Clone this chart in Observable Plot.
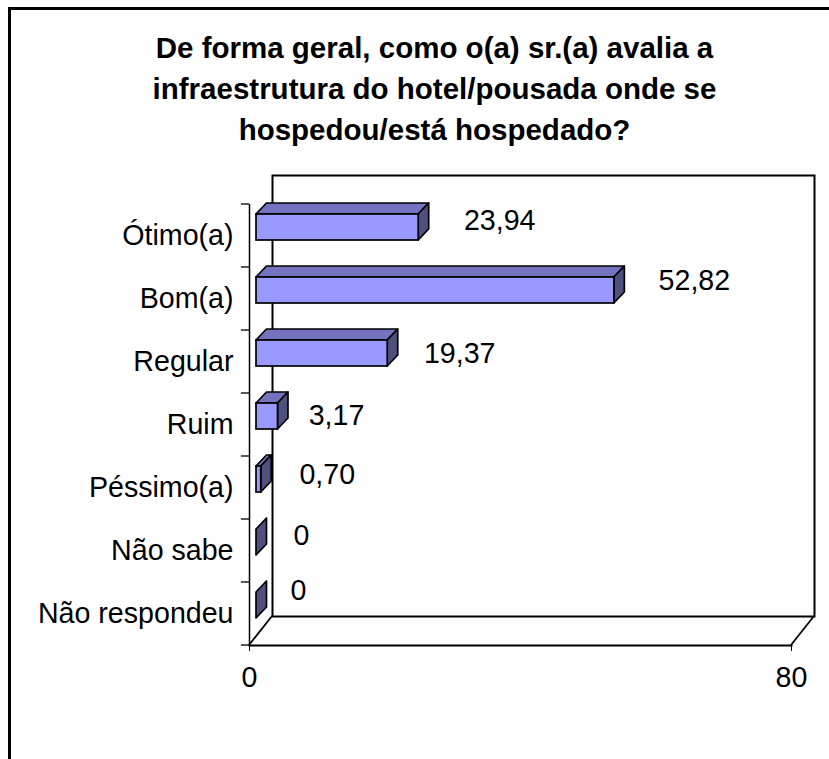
<!DOCTYPE html>
<html><head><meta charset="utf-8">
<script src="https://cdn.jsdelivr.net/npm/d3@7"></script>
<script src="https://cdn.jsdelivr.net/npm/@observablehq/plot@0.6"></script>
<style>
html,body{margin:0;padding:0;background:#fff;overflow:hidden}
#wrap{position:relative;width:829px;height:759px;overflow:hidden}
#border{position:absolute;left:8px;top:7px;right:-4px;bottom:-4px;border:3px solid #000}
#title{position:absolute;left:0;top:27px;width:869px;text-align:center;font:bold 29.5px/41px "Liberation Sans",Arial,sans-serif;color:#000;white-space:pre-line}
#chart{position:absolute;left:0;top:0}
</style></head><body>
<div id="wrap"><div id="border"></div><div id="title"></div><div id="chart"></div></div>
<script>
const titleLines = ["De forma geral, como o(a) sr.(a) avalia a","infraestrutura do hotel/pousada onde se","hospedou/está hospedado?"];
const categories = ["Ótimo(a)","Bom(a)","Regular","Ruim","Péssimo(a)","Não sabe","Não respondeu"];
const values = [23.94,52.82,19.37,3.17,0.70,0,0];
const valueLabels = ["23,94","52,82","19,37","3,17","0,70","0","0"];
const xTicks = [0,80];

// layout / style constants (pixels), kept apart from the data
const labelDx = [88,87,79,65.5,73,52,49];
const labelDy = [-14.5,-17.5,-7.5,-8.5,-12.5,-14.5,-22.5];
const wall = {dx:23, dy:-29};
const bar = {dx:7, dy:-8, depthX:10.5, depthY:11};
const colors = {front:"#9999ff", top:"#7373bf", side:"#50507f"};
const fontSize = 28.6;
const barStroke = 1.7;

document.getElementById("title").textContent = titleLines.join("\n");
const rows = categories.map((c,i)=>({category:c,value:values[i],label:valueLabels[i],dx:labelDx[i],dy:labelDy[i]}));

const svgEl = (n,attrs)=>{const e=document.createElementNS("http://www.w3.org/2000/svg",n);for(const k in attrs)e.setAttribute(k,attrs[k]);return e;};

// 3-D floor edges, drawn from the chart's own scales
function floorEdges(index,{x,y},values,dim){
  const g=svgEl("g",{stroke:"#000","stroke-width":1.8,fill:"none"});
  const b=dim.height-dim.marginBottom;
  for(const v of x.domain()) g.appendChild(svgEl("line",{x1:x(v),y1:b,x2:x(v)+wall.dx,y2:b+wall.dy}));
  return g;
}
// top and side faces of every bar
function barFaces(index,{x,y}){
  const g=svgEl("g",{stroke:"#000","stroke-width":barStroke,"stroke-linejoin":"round"});
  const h=y.bandwidth();
  for(const r of rows){
    const x0=x(0)+bar.dx, x1=x(r.value)+bar.dx, y0=y(r.category)+bar.dy, y1=y0+h;
    const dX=bar.depthX, dY=bar.depthY;
    if(r.value>0) g.appendChild(svgEl("polygon",{fill:colors.top,points:`${x0},${y0} ${x0+dX},${y0-dY} ${x1+dX},${y0-dY} ${x1},${y0}`}));
    g.appendChild(svgEl("polygon",{fill:colors.side,points:`${x1},${y0} ${x1+dX},${y0-dY} ${x1+dX},${y1-dY} ${x1},${y1}`}));
  }
  return g;
}

const edgeRules = categories.map((c,i)=>({category:c}));
const plot = Plot.plot({
  width:829,height:759,
  marginLeft:249,marginRight:38,marginTop:204,marginBottom:114,
  style:{background:"transparent",fontFamily:'"Liberation Sans",Arial,sans-serif',fontSize:fontSize+"px",color:"#000",overflow:"visible"},
  x:{domain:[0,80],range:[249,791]},
  y:{domain:categories,paddingInner:0.58,paddingOuter:0.29,align:0.5},
  marks:[
    Plot.frame({dx:wall.dx,dy:wall.dy,stroke:"#000",strokeWidth:2}),
    floorEdges,
    Plot.frame({anchor:"bottom",stroke:"#000",strokeWidth:2}),
    Plot.ruleX([0],{stroke:"#000",strokeWidth:1.5}),
    // band-edge tick marks on the category axis
    Plot.ruleY(edgeRules,{y:"category",x1:-1.2,x2:0,dy:-31.5,stroke:"#000",strokeWidth:1.3}),
    Plot.ruleY(edgeRules.slice(-1),{y:"category",x1:-1.2,x2:0,dy:31.5,stroke:"#000",strokeWidth:1.3}),
    barFaces,
    Plot.barX(rows,{x:"value",y:"category",dx:bar.dx,dy:bar.dy,fill:colors.front,stroke:"#000",strokeWidth:barStroke}),
    Plot.axisY({label:null,tickSize:0,tickPadding:16,fontSize,fill:"#000"}),
    Plot.axisX({ticks:xTicks,label:null,tickSize:6,tickPadding:15,fontSize,fill:"#000",stroke:"#000",tickFormat:d=>String(d)}),
    ...rows.map(r=>Plot.text([r],{x:"value",y:"category",text:"label",dx:r.dx,dy:r.dy,fontSize,fill:"#000",lineAnchor:"middle"}))
  ]
});
document.getElementById("chart").appendChild(plot);
</script>
</body></html>
